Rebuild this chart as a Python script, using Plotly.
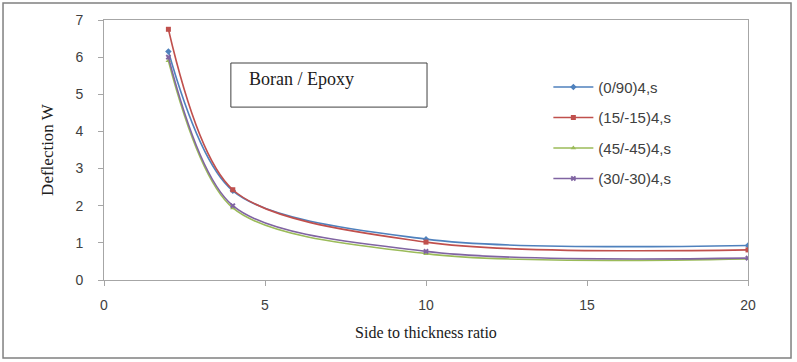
import plotly.graph_objects as go

ratio = [2, 4, 10, 20]
series_names = ["(0/90)4,s", "(15/-15)4,s", "(45/-45)4,s", "(30/-30)4,s"]
w_0_90 = [6.15, 2.40, 1.10, 0.93]
w_15_15 = [6.75, 2.43, 1.02, 0.81]
w_45_45 = [5.90, 1.94, 0.71, 0.57]
w_30_30 = [6.00, 2.00, 0.77, 0.59]
colors = ["#4F81BD", "#C0504D", "#9BBB59", "#8064A2"]
symbols = ["diamond", "square", "triangle-up", "x"]

fig = go.Figure()
for i, (name, vals) in enumerate(zip(series_names, [w_0_90, w_15_15, w_45_45, w_30_30])):
    fig.add_trace(go.Scatter(
        x=ratio, y=vals, name=name, mode="lines+markers",
        line=dict(color=colors[i], width=1.6, shape="spline", smoothing=0.85),
        marker=dict(color=colors[i], symbol=symbols[i], size=5),
        legendgroup=f"g{i}",
    ))

axis_font = dict(family="Liberation Sans, Arial", size=14, color="#404040")
fig.update_layout(
    width=797, height=362,
    margin=dict(l=104, r=49, t=20, b=82),
    paper_bgcolor="white", plot_bgcolor="white",
    showlegend=True,
    legend=dict(x=0.69, y=0.805, xanchor="left", yanchor="top",
                font=dict(family="Liberation Sans, Arial", size=15, color="#404040"),
                tracegroupgap=8, bgcolor="rgba(0,0,0,0)", itemwidth=40),
    xaxis=dict(range=[0, 20], tickvals=[0, 5, 10, 15, 20], showgrid=False, zeroline=False,
               showline=True, linecolor="#A6A6A6", linewidth=1, mirror=True,
               ticks="outside", ticklen=5, tickcolor="#A6A6A6", tickfont=axis_font,
               ticklabelstandoff=7,
               title=dict(text="Side to thickness ratio",
                          font=dict(family="Liberation Serif, Times New Roman", size=16, color="#202020"),
                          standoff=15)),
    yaxis=dict(range=[0, 7], tickvals=list(range(8)), showgrid=False, zeroline=False,
               showline=True, linecolor="#A6A6A6", linewidth=1, mirror=True,
               ticks="outside", ticklen=5, tickcolor="#A6A6A6", tickfont=axis_font,
               ticklabelstandoff=12,
               title=dict(text="Deflection W",
                          font=dict(family="Liberation Serif, Times New Roman", size=17, color="#202020"),
                          standoff=17)),
    shapes=[
        dict(type="rect", xref="paper", yref="paper", x0=-0.1568, x1=1.0668, y0=-0.30, y1=1.0654,
             line=dict(color="#808080", width=1.5)),
        dict(type="rect", xref="paper", yref="paper", x0=0.197, x1=0.5016, y0=0.665, y1=0.8346,
             line=dict(color="#404040", width=1), fillcolor="white", layer="below"),
    ],
    annotations=[
        dict(text="Boran / Epoxy", xref="paper", yref="paper", x=0.222, y=0.775,
             xanchor="left", yanchor="middle", showarrow=False,
             font=dict(family="Liberation Serif, Times New Roman", size=18, color="#202020")),
    ],
)
fig.write_html("out.html")
